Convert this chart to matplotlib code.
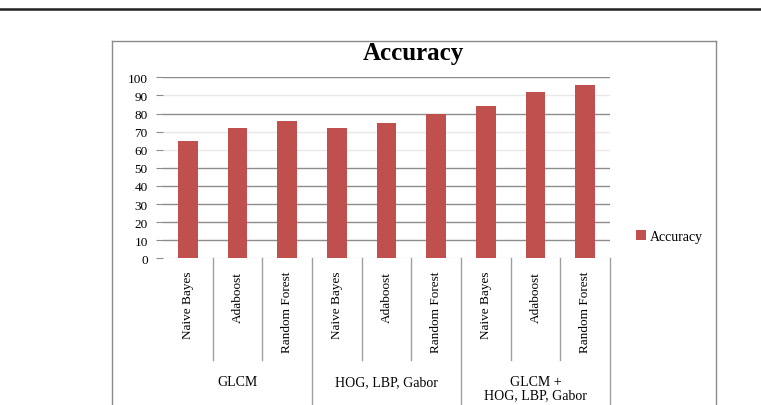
import matplotlib
matplotlib.use('Agg')
import matplotlib.pyplot as plt
from matplotlib.lines import Line2D
import numpy as np

# data
classifiers = ['Naive Bayes', 'Adaboost', 'Random Forest'] * 3
groups = ['GLCM', 'HOG, LBP, Gabor', 'GLCM +\nHOG, LBP, Gabor']
accuracy = [65, 72, 76, 72, 75, 80, 84, 92, 96]
yticks = list(range(0, 101, 10))

plt.rcParams['font.family'] = ['Liberation Serif', 'DejaVu Serif']

bar_color = '#C0504D'
grid_color = '#8C8C8C'
frame_color = '#8A8A8A'

fig = plt.figure(figsize=(7.61, 4.06), dpi=100)
ax = fig.add_axes([0.2142, 0.3613, 0.5874, 0.4458])

x = np.arange(len(accuracy))
ax.bar(x, accuracy, width=0.40, color=bar_color, zorder=3, label='Accuracy')

ax.set_xlim(-0.5, len(accuracy) - 0.5)
ax.set_ylim(0, 100)
ax.set_yticks(yticks)
ax.set_yticklabels([str(v) for v in yticks], fontsize=9.5)
ax.tick_params(axis='y', length=5, color=grid_color, pad=6, direction='out')
ax.yaxis.grid(True, color=grid_color, linewidth=1, zorder=0)
# some gridlines are barely visible in the scanned figure
for v, gl in zip(yticks, ax.get_ygridlines()):
    if v in (0, 60, 70, 90):
        gl.set_color('#E8E8E8')

ax.set_xticks(x)
ax.set_xticklabels(classifiers, rotation=90, fontsize=9.5, va='top')
ax.tick_params(axis='x', length=0, pad=9)

for s in ax.spines.values():
    s.set_visible(False)

# category separators under the axis
trans = ax.get_xaxis_transform()
n_per = len(classifiers) // len(groups)
for i in range(1, len(accuracy) + 1):
    xs = i - 0.5
    if i % n_per == 0:
        ax.plot([xs, xs], [0, -0.85], color='#A0A0A0', lw=1, transform=trans, clip_on=False)
    else:
        ax.plot([xs, xs], [0, -0.56], color='#A0A0A0', lw=1, transform=trans, clip_on=False)

for g, name in enumerate(groups):
    cx = g * n_per + (n_per - 1) / 2
    ax.text(cx, -0.645, name, transform=trans, ha='center', va='top',
            fontsize=10, linespacing=1.05)

fig.text(0.543, 0.868, 'Accuracy', ha='center', va='center', fontsize=18, fontweight='bold')

leg = ax.legend(loc='center left', bbox_to_anchor=(1.03, 0.12), frameon=False,
                fontsize=10, handlelength=0.7, handleheight=0.7, handletextpad=0.3)

# outer chart frame and the page header rule
fig.add_artist(Line2D([112 / 761, 112 / 761], [0, 1 - 42 / 406], color=frame_color, lw=1))
fig.add_artist(Line2D([715.5 / 761, 715.5 / 761], [0, 1 - 42 / 406], color=frame_color, lw=1))
fig.add_artist(Line2D([112 / 761, 715.5 / 761], [1 - 42 / 406, 1 - 42 / 406], color=frame_color, lw=1))
fig.add_artist(Line2D([0, 1], [1 - 10 / 406, 1 - 10 / 406], color='#222222', lw=1.8))

fig.savefig('out.png', dpi=100)
